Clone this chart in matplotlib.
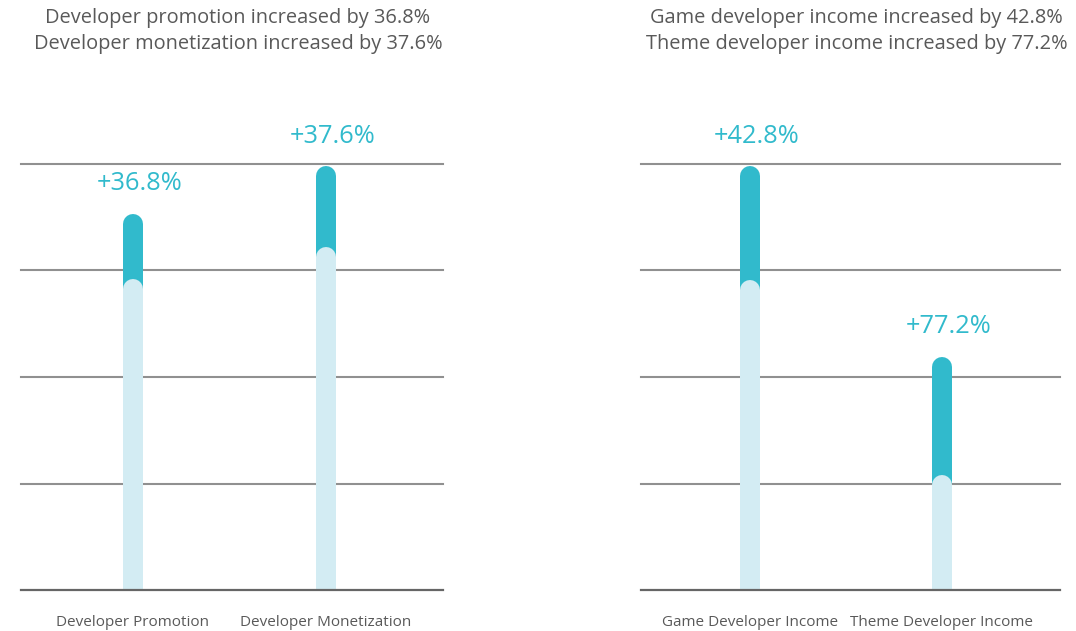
import matplotlib
matplotlib.use("Agg")
import matplotlib.pyplot as plt

plt.rcParams['font.family'] = ['Open Sans', 'DejaVu Sans']

# ---- data ----
left_categories = ["Developer Promotion", "Developer Monetization"]
left_before = [2.92, 3.22]
left_after = [3.53, 3.98]
left_labels = ["+36.8%", "+37.6%"]
left_title = ["Developer promotion increased by 36.8%",
              "Developer monetization increased by 37.6%"]

right_categories = ["Game Developer Income", "Theme Developer Income"]
right_before = [2.91, 1.08]
right_after = [3.98, 2.19]
right_labels = ["+42.8%", "+77.2%"]
right_title = ["Game developer income increased by 42.8%",
               "Theme developer income increased by 77.2%"]

grid_levels = [1, 2, 3, 4]

# ---- style ----
DARK = "#31BACC"
LIGHT = "#D3ECF3"
GRID = "#909090"
BASE = "#666666"
TEXT = "#595959"

W, H, DPI = 1076, 631, 100
fig = plt.figure(figsize=(W / DPI, H / DPI), dpi=DPI)

bar_px = 20
ax_h_px = 426
ylim = (0, 4)

specs = [
    dict(rect=(21 / W, 41 / H, 422 / W, ax_h_px / H), xlim=(-0.580, 1.606),
         cats=left_categories, before=left_before, after=left_after,
         labels=left_labels, title=left_title),
    dict(rect=(641 / W, 41 / H, 419 / W, ax_h_px / H), xlim=(-0.568, 1.615),
         cats=right_categories, before=right_before, after=right_after,
         labels=right_labels, title=right_title),
]

r_data = (bar_px / 2) / (ax_h_px / (ylim[1] - ylim[0]))
lw_pt = bar_px * 72 / DPI

for s in specs:
    ax = fig.add_axes(s["rect"])
    ax.set_xlim(*s["xlim"])
    ax.set_ylim(*ylim)
    for sp in ax.spines.values():
        sp.set_visible(False)
    for g in grid_levels:
        ax.axhline(g, color=GRID, lw=1.5, zorder=1, clip_on=False)
    ax.axhline(0, color=BASE, lw=1.6, zorder=5, clip_on=False)
    xs = list(range(len(s["cats"])))
    for x, b, a, lab in zip(xs, s["before"], s["after"], s["labels"]):
        ax.plot([x, x], [-1, a - r_data], color=DARK, lw=lw_pt,
                solid_capstyle="round", zorder=2)
        ax.plot([x, x], [-1, b - r_data], color=LIGHT, lw=lw_pt,
                solid_capstyle="round", zorder=3)
        ax.annotate(lab, xy=(x, a), xytext=(4.5, 17), textcoords="offset points",
                    ha="center", va="baseline", fontsize=18.3, color=DARK,
                    annotation_clip=False)
    ax.set_xticks(xs)
    ax.set_xticklabels(s["cats"], fontsize=11, color=TEXT)
    ax.tick_params(axis="x", length=0, pad=18)
    ax.set_yticks([])
    l, b0, w, h = s["rect"]
    cx = l + w / 2 + 6 / W
    fig.text(cx, 1 - 18 / H, s["title"][0], ha="center", va="center",
             fontsize=14.4, color=TEXT)
    fig.text(cx, 1 - 44 / H, s["title"][1], ha="center", va="center",
             fontsize=14.4, color=TEXT)

fig.savefig("out.png", dpi=DPI)
